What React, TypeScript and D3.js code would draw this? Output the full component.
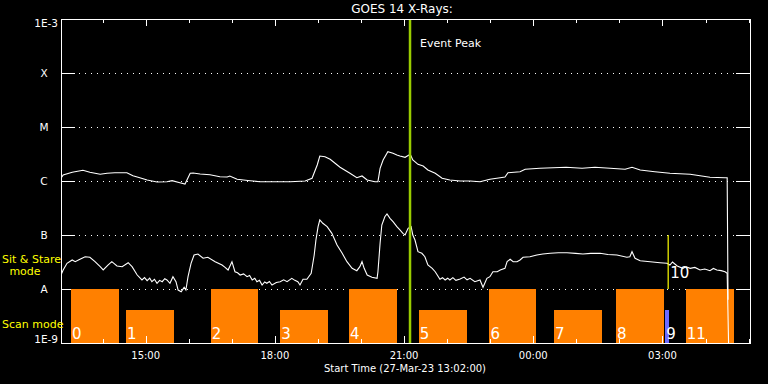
import React from "react";
import * as d3 from "d3";

// ---------- data ----------
const START_MS = Date.UTC(2023, 2, 27, 13, 2, 0);
const SPAN_HOURS = 16;

const levelValues = [1e-3, 1e-4, 1e-5, 1e-6, 1e-7, 1e-8, 1e-9];
const levelLabels = ["1E-3", "X", "M", "C", "B", "A", "1E-9"];
const majorTickLabels = ["15:00", "18:00", "21:00", "00:00", "03:00"];

// [hours since start, log10 flux] - long channel (1-8 A)
const longChannel: [number, number][] = [
  [0.0, -5.95], [0.05, -5.889], [0.26, -5.839], [0.51, -5.802], [0.67, -5.839],
  [0.91, -5.876], [1.07, -5.857], [1.25, -5.846], [1.53, -5.846], [1.67, -5.902],
  [1.83, -5.939], [2.0, -5.981], [2.23, -6.019], [2.46, -6.013], [2.58, -5.994],
  [2.76, -6.031], [2.88, -6.056], [3.0, -5.857], [3.07, -5.852], [3.23, -5.87],
  [3.46, -5.883], [3.69, -5.92], [3.86, -5.926], [3.92, -5.907], [4.09, -5.969],
  [4.39, -5.994], [4.62, -6.013], [5.32, -6.013], [5.67, -6.0], [5.83, -5.95],
  [5.95, -5.704], [6.01, -5.537], [6.13, -5.55], [6.25, -5.598], [6.48, -5.746],
  [6.71, -5.857], [6.87, -5.939], [6.99, -5.907], [7.11, -5.981], [7.29, -6.013],
  [7.36, -6.013], [7.41, -5.765], [7.48, -5.611], [7.59, -5.457], [7.71, -5.487],
  [7.8, -5.519], [7.87, -5.537], [7.99, -5.561], [8.11, -5.506], [8.17, -5.611],
  [8.29, -5.691], [8.41, -5.722], [8.52, -5.796], [8.69, -5.857], [8.85, -5.95],
  [9.03, -5.981], [9.27, -6.0], [9.5, -6.0], [9.73, -6.013], [9.96, -5.969],
  [10.2, -5.939], [10.31, -5.926], [10.38, -5.846], [10.66, -5.828], [10.78, -5.783],
  [11.12, -5.765], [11.73, -5.746], [12.1, -5.765], [12.4, -5.746], [12.75, -5.765],
  [13.1, -5.783], [13.26, -5.746], [13.45, -5.796], [13.79, -5.828], [14.14, -5.857],
  [14.61, -5.876], [14.84, -5.902], [15.07, -5.931], [15.42, -5.939], [15.47, -5.939],
  [15.49, -8.2],
];

// [hours since start, log10 flux] - short channel (0.5-4 A)
const shortChannel: [number, number][] = [
  [0.0, -7.741], [0.05, -7.648], [0.14, -7.524], [0.26, -7.463], [0.33, -7.494],
  [0.44, -7.45], [0.56, -7.402], [0.67, -7.413], [0.79, -7.494], [0.91, -7.587],
  [0.98, -7.648], [1.09, -7.556], [1.18, -7.494], [1.3, -7.574], [1.42, -7.587],
  [1.56, -7.513], [1.65, -7.587], [1.77, -7.741], [1.88, -7.833], [1.94, -7.79],
  [2.0, -7.846], [2.06, -7.8], [2.11, -7.865], [2.17, -7.82], [2.23, -7.894],
  [2.29, -7.84], [2.35, -7.865], [2.41, -7.81], [2.46, -7.833], [2.53, -7.894],
  [2.6, -7.772], [2.67, -7.865], [2.72, -8.019], [2.79, -8.05], [2.86, -7.969],
  [2.9, -8.019], [2.95, -7.772], [3.02, -7.524], [3.09, -7.37], [3.18, -7.352],
  [3.3, -7.431], [3.41, -7.413], [3.58, -7.494], [3.74, -7.556], [3.81, -7.6],
  [3.88, -7.648], [3.97, -7.494], [4.04, -7.68], [4.1, -7.7], [4.16, -7.741],
  [4.24, -7.72], [4.32, -7.772], [4.38, -7.75], [4.44, -7.833], [4.5, -7.8],
  [4.55, -7.865], [4.61, -7.84], [4.67, -7.926], [4.73, -7.87], [4.78, -7.894],
  [4.84, -7.86], [4.9, -7.926], [5.0, -7.88], [5.09, -7.865], [5.17, -7.83],
  [5.25, -7.865], [5.36, -7.802], [5.43, -7.84], [5.5, -7.865], [5.55, -7.926],
  [5.62, -7.82], [5.71, -7.82], [5.81, -7.709], [5.88, -7.37], [5.92, -7.093],
  [5.97, -6.846], [6.01, -6.722], [6.08, -6.783], [6.18, -6.846], [6.29, -6.969],
  [6.41, -7.185], [6.53, -7.339], [6.64, -7.494], [6.76, -7.617], [6.87, -7.661],
  [6.94, -7.587], [6.99, -7.494], [7.04, -7.617], [7.11, -7.741], [7.22, -7.783],
  [7.34, -7.802], [7.36, -7.68], [7.41, -7.154], [7.45, -6.815], [7.52, -6.661],
  [7.57, -6.611], [7.64, -6.691], [7.71, -6.754], [7.8, -6.846], [7.87, -6.907],
  [7.94, -6.969], [7.99, -7.0], [8.06, -6.876], [8.13, -6.846], [8.17, -7.0],
  [8.22, -7.093], [8.29, -7.309], [8.38, -7.339], [8.45, -7.402], [8.52, -7.556],
  [8.62, -7.617], [8.69, -7.68], [8.8, -7.82], [8.86, -7.79], [8.92, -7.833],
  [8.98, -7.8], [9.03, -7.833], [9.1, -7.79], [9.17, -7.84], [9.27, -7.815],
  [9.36, -7.78], [9.43, -7.83], [9.5, -7.802], [9.61, -7.865], [9.73, -7.833],
  [9.8, -7.969], [9.89, -7.802], [9.96, -7.772], [10.03, -7.68], [10.13, -7.68],
  [10.2, -7.648], [10.31, -7.617], [10.36, -7.494], [10.43, -7.45], [10.5, -7.494],
  [10.59, -7.494], [10.66, -7.463], [10.73, -7.413], [10.89, -7.402], [11.05, -7.37],
  [11.19, -7.352], [11.36, -7.339], [11.55, -7.33], [11.75, -7.328], [11.95, -7.34],
  [12.12, -7.352], [12.3, -7.34], [12.52, -7.339], [12.7, -7.36], [12.91, -7.37],
  [13.14, -7.413], [13.21, -7.402], [13.26, -7.309], [13.33, -7.431], [13.45, -7.476],
  [13.68, -7.494], [13.91, -7.513], [14.07, -7.524], [14.14, -7.556], [14.2, -7.5],
  [14.31, -7.574], [14.44, -7.617], [14.52, -7.59], [14.61, -7.617], [14.72, -7.6],
  [14.84, -7.648], [14.95, -7.63], [15.07, -7.661], [15.15, -7.62], [15.23, -7.648],
  [15.33, -7.66], [15.42, -7.68], [15.47, -7.709], [15.51, -9.3],
];

// observation windows (hours since start)
const barLabels = ["0", "1", "2", "3", "4", "5", "6", "7", "8", "9", "11"];
const barStarts = [0.23, 1.51, 3.48, 5.09, 6.69, 8.31, 9.95, 11.45, 12.89, 14.03, 14.51];
const barEnds = [1.34, 2.62, 4.57, 6.19, 7.8, 9.42, 11.02, 12.56, 14.0, 14.12, 15.62];
const barModes = ["stare", "scan", "stare", "scan", "stare", "scan", "stare", "scan", "stare", "point", "stare"];

const eventPeakHours = 8.105;
const marker10Hours = 14.1;
const marker10Label = "10";

// ---------- chart ----------
const W = 768;
const H = 384;
const M = { left: 61, right: 750, top: 19, bottom: 343 };
const FONT = "'DejaVu Sans', sans-serif";

const toDate = (h: number) => new Date(START_MS + h * 3600e3);

export default function App() {
  const x = d3
    .scaleUtc()
    .domain([toDate(0), toDate(SPAN_HOURS)])
    .range([M.left, M.right]);
  const y = d3.scaleLog().domain([1e-9, 1e-3]).range([M.bottom, M.top]);
  const band = d3.scaleLinear().domain([0, 1]).range([M.bottom, y(1e-8)]);
  const modeHeight: Record<string, number> = { stare: 1, scan: 0.61, point: 0.61 };
  const modeColor: Record<string, string> = { stare: "#ff8000", scan: "#ff8000", point: "#6b6bff" };

  const line = d3
    .line<[number, number]>()
    .x((d) => x(toDate(d[0])))
    .y((d) => y(Math.pow(10, d[1])))
    .curve(d3.curveLinear);

  const hourTicks = x.ticks(d3.utcHour.every(1)!);
  const isMajor = (d: Date) => d.getUTCHours() % 3 === 0;
  const majorTicks = hourTicks.filter(isMajor);
  const fmt = d3.utcFormat("%H:%M");

  const gridLevels = levelValues.slice(1, 6);
  const xPeak = x(toDate(eventPeakHours));
  const x10 = x(toDate(marker10Hours));

  return (
    <svg
      width={W}
      height={H}
      style={{ position: "fixed", left: 0, top: 0, display: "block" }}
      fontFamily={FONT}
    >
      <defs>
        <clipPath id="plotClip">
          <rect x={M.left} y={M.top} width={M.right - M.left} height={M.bottom - M.top} />
        </clipPath>
      </defs>
      <rect x={0} y={0} width={W} height={H} fill="#000" />

      {/* grid */}
      {gridLevels.map((v, i) => (
        <g key={"g" + i} shapeRendering="crispEdges">
          <line x1={79} x2={735} y1={Math.round(y(v)) + 0.5} y2={Math.round(y(v)) + 0.5} stroke="#fff" strokeDasharray="1,5" />
          <line x1={M.left} x2={M.left + 14} y1={Math.round(y(v)) + 0.5} y2={Math.round(y(v)) + 0.5} stroke="#fff" />
          <line x1={M.right - 14} x2={M.right} y1={Math.round(y(v)) + 0.5} y2={Math.round(y(v)) + 0.5} stroke="#fff" />
        </g>
      ))}

      {/* observation bars */}
      {barStarts.map((s, i) => {
        const x0 = x(toDate(s));
        const x1 = x(toDate(barEnds[i]));
        const top = band(modeHeight[barModes[i]]);
        return (
          <rect
            key={"b" + i}
            x={x0}
            y={top}
            width={x1 - x0}
            height={M.bottom - top}
            fill={modeColor[barModes[i]]}
            shapeRendering="crispEdges"
          />
        );
      })}

      {/* x ticks top and bottom */}
      {hourTicks.map((t, i) => {
        const xx = Math.round(x(t)) + 0.5;
        const len = isMajor(t) ? 7 : 4;
        return (
          <g key={"t" + i} stroke="#fff" shapeRendering="crispEdges">
            <line x1={xx} x2={xx} y1={M.top} y2={M.top + len} />
            <line x1={xx} x2={xx} y1={M.bottom} y2={M.bottom - len} />
          </g>
        );
      })}

      {/* curves */}
      <g clipPath="url(#plotClip)" fill="none" stroke="#fff" strokeWidth={1.1}>
        <path d={line(longChannel) || ""} />
        <path d={line(shortChannel) || ""} />
      </g>

      {/* markers */}
      <line x1={xPeak} x2={xPeak} y1={M.top} y2={M.bottom} stroke="#99cc00" strokeWidth={2.5} />
      <line x1={x10} x2={x10} y1={y(1e-7)} y2={y(1e-8)} stroke="#ffff00" strokeWidth={1.2} />
      <text x={xPeak + 10} y={47} fill="#fff" fontSize={11}>Event Peak</text>
      <text x={x10 + 2} y={278} fill="#fff" fontSize={15}>{marker10Label}</text>

      {/* bar labels */}
      {barStarts.map((s, i) => (
        <text key={"bl" + i} x={x(toDate(s)) + 1} y={339} fill="#fff" fontSize={15}>
          {barLabels[i]}
        </text>
      ))}

      {/* frame */}
      <rect
        x={M.left + 0.5}
        y={M.top + 0.5}
        width={M.right - M.left}
        height={M.bottom - M.top}
        fill="none"
        stroke="#fff"
        shapeRendering="crispEdges"
      />

      {/* y labels */}
      {levelLabels.map((lab, i) => {
        const yy = y(levelValues[i]);
        if (i === 0)
          return <text key={"yl" + i} x={58} y={yy + 8} fill="#fff" fontSize={10.5} textAnchor="end">{lab}</text>;
        if (i === levelLabels.length - 1)
          return <text key={"yl" + i} x={58} y={yy} fill="#fff" fontSize={10.5} textAnchor="end">{lab}</text>;
        return <text key={"yl" + i} x={44} y={yy + 4} fill="#fff" fontSize={10.5} textAnchor="middle">{lab}</text>;
      })}

      {/* mode labels */}
      <text x={2} y={263} fill="#ffff00" fontSize={11}>Sit &amp; Stare</text>
      <text x={25} y={275} fill="#ffff00" fontSize={11} textAnchor="middle">mode</text>
      <text x={2} y={328} fill="#ffff00" fontSize={11}>Scan mode</text>

      {/* x labels */}
      {majorTicks.map((t, i) => (
        <text key={"xl" + i} x={x(t)} y={359} fill="#fff" fontSize={10} textAnchor="middle">
          {majorTickLabels.includes(fmt(t)) ? fmt(t) : ""}
        </text>
      ))}
      <text x={405} y={372} fill="#fff" fontSize={10} textAnchor="middle">
        Start Time (27-Mar-23 13:02:00)
      </text>

      {/* title */}
      <text x={402} y={13} fill="#fff" fontSize={12} textAnchor="middle">GOES 14 X-Rays:</text>
    </svg>
  );
}
